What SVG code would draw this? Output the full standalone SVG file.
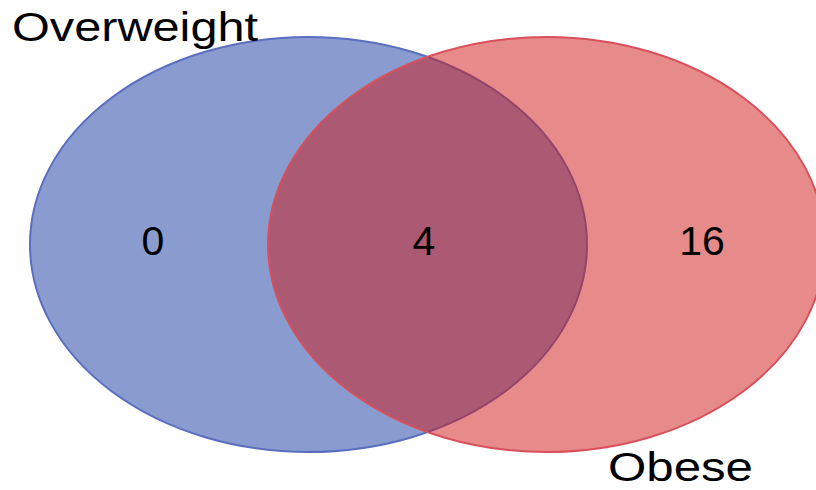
<svg xmlns="http://www.w3.org/2000/svg" width="816" height="490" viewBox="0 0 816 490">
<style>
text{font-family:"Liberation Sans",Arial,sans-serif;fill:#000}
.lbl{font-size:40px}
.num{font-size:41px;text-anchor:middle}
</style>
<rect width="816" height="490" fill="#fff"/>
<g id="overweight">
<ellipse cx="308.5" cy="244.5" rx="278.5" ry="207.5" fill="#8a9bd0" stroke="#5a6ec0" stroke-width="2"/>
</g>
<g id="obese">
<ellipse cx="546.5" cy="244.5" rx="278.5" ry="207.5" fill="rgb(205,23,21)" fill-opacity="0.5" stroke="#d9505a" stroke-width="2"/>
</g>
<g id="connectors"></g>
<g id="labels">
<text class="lbl" x="12" y="41" textLength="246" lengthAdjust="spacingAndGlyphs">Overweight</text>
<text class="lbl" x="608" y="481" textLength="145" lengthAdjust="spacingAndGlyphs">Obese</text>
<text class="num" x="153" y="255">0</text>
<text class="num" x="424" y="255">4</text>
<text class="num" x="702" y="255">16</text>
</g>
</svg>
